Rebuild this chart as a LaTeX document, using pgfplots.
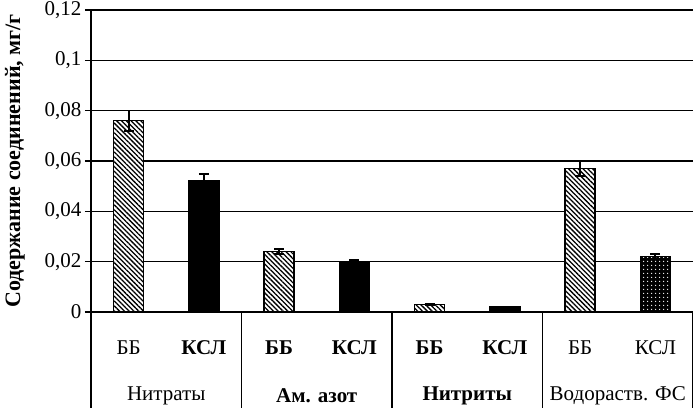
\documentclass[border=0pt]{standalone}
\usepackage{fontspec}
\setmainfont{Liberation Serif}
\usepackage{pgfplots}
\pgfplotsset{compat=1.18}
\usetikzlibrary{patterns.meta}

\begin{document}
\begin{tikzpicture}[font=\fontsize{21}{24}\selectfont]
\begin{axis}[
  name=ax, at={(0,0)}, anchor=south west,
  scale only axis, width=602pt, height=302pt,
  xmin=-0.5, xmax=7.5, ymin=0, ymax=0.12,
  ytick={0,0.02,0.04,0.06,0.08,0.1,0.12},
  scaled y ticks=false,
  yticklabel style={/pgf/number format/.cd, fixed, precision=2, use comma, assume math mode=true},
  tick label style={font=\fontsize{21}{24}\selectfont},
  axis x line*=bottom, axis y line*=left,
  axis line style={line width=1.2pt, black},
  ymajorgrids, grid style={black, line width=1.2pt},
  ytick style={line width=1.2pt, black}, tick align=outside, major tick length=6pt,
  xtick={0,...,7},
  xticklabels={ББ,\textbf{КСЛ},\textbf{ББ},\textbf{КСЛ},\textbf{ББ},\textbf{КСЛ},ББ,КСЛ},
  xtick style={draw=none},
  xticklabel style={anchor=center, yshift=-30pt},
  clip=false,
  error bars/error bar style={line width=2pt, black},
  error bars/error mark options={rotate=90, mark size=5pt, line width=1.5pt, black},
]
% ББ (hatched)
\addplot[ybar, bar shift=0pt, bar width=30pt, draw=black, line width=1.5pt, fill=white,
  postaction={pattern={Lines[angle=-45,distance=3.4pt,line width=1.3pt]}, pattern color=black},
  error bars/.cd, y dir=both, y explicit]
  coordinates {(0,0.076) +- (0,0.004) (2,0.024) +- (0,0.001) (4,0.003) +- (0,0.0003) (6,0.057) +- (0,0.003)};
% КСЛ (solid black)
\addplot[ybar, bar shift=0pt, bar width=30pt, draw=black, line width=1.5pt, fill=black,
  error bars/.cd, y dir=both, y explicit]
  coordinates {(1,0.052) +- (0,0.0028) (3,0.020) +- (0,0.0006) (5,0.002) +- (0,0.0002)};
% КСЛ (dotted)
\addplot[ybar, bar shift=0pt, bar width=30pt, draw=black, line width=1.5pt, fill=black,
  postaction={pattern={Dots[distance=4pt,radius=0.8pt]}, pattern color=white},
  error bars/.cd, y dir=both, y explicit]
  coordinates {(7,0.022) +- (0,0.001)};

\draw[line width=1.2pt] (axis cs:-0.5,0) -- ++(0pt,-96pt);
\draw[line width=1.2pt] (axis cs:1.5,0) -- ++(0pt,-96pt);
\draw[line width=1.2pt] (axis cs:3.5,0) -- ++(0pt,-96pt);
\draw[line width=1.2pt] (axis cs:5.5,0) -- ++(0pt,-96pt);
\draw[line width=1.2pt] (axis cs:7.5,0) -- ++(0pt,-96pt);

\node[yshift=-84pt] at (axis cs:0.5,0) {Нитраты};
\node[yshift=-84pt] at (axis cs:2.5,0) {\textbf{Ам. азот}};
\node[yshift=-84pt] at (axis cs:4.5,0) {\textbf{Нитриты}};
\node[yshift=-84pt] at (axis cs:6.5,0) {Водораств. ФС};
\end{axis}
\node[rotate=90, font=\bfseries\fontsize{22}{25}\selectfont] at ([xshift=-76pt]ax.west) {Содержание соединений, мг/г};
\pgfresetboundingbox
\path[use as bounding box] (-91pt,-96pt) rectangle (602pt,312pt);
\end{tikzpicture}
\end{document}
